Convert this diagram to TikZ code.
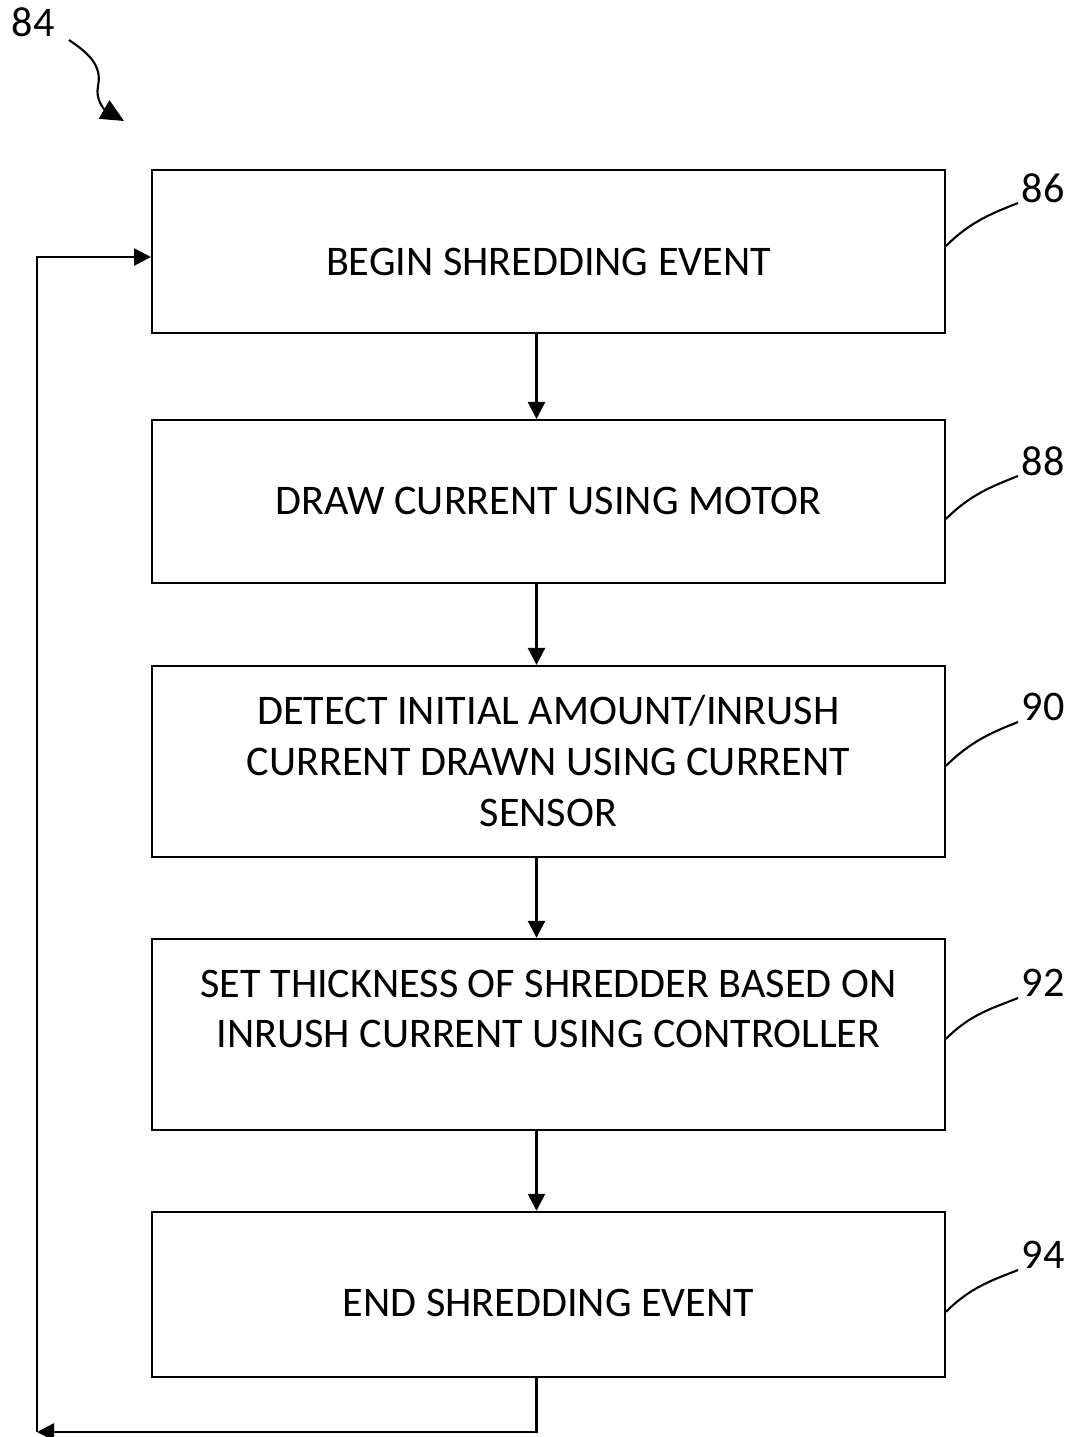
\documentclass[tikz,border=0pt]{standalone}
\usepackage{fontspec}
\setmainfont{Carlito}
\usetikzlibrary{arrows.meta,calc,positioning}
\tikzset{
	StepBox/.style={draw, line width=1.1pt, minimum width=15.86cm, align=center, inner sep=0pt, font=\fontsize{24}{29}\selectfont},
	Flow/.style={line width=1.5pt, -{Triangle[length=0.34cm, width=0.34cm]}},
	RefNum/.style={inner sep=0pt, font=\fontsize{24}{29}\selectfont},
	Leader/.style={line width=1.2pt}
}

\begin{document}
\begin{tikzpicture}[node distance=1.60cm]
		\useasboundingbox (0,0) rectangle (21.42,-28.74);
		\node[StepBox, minimum height=3.26cm, text height=0.95cm, text depth=0cm] (begin) at (10.97,-5.03) {BEGIN SHREDDING EVENT};
		\node[StepBox, minimum height=3.26cm, below=1.70cm of begin] (draw) {DRAW CURRENT USING MOTOR};
		\node[StepBox, minimum height=3.82cm, below=1.62cm of draw] (detect) {DETECT INITIAL AMOUNT/INRUSH\\ CURRENT DRAWN USING CURRENT\\ SENSOR};
		\node[StepBox, minimum height=3.82cm, below=of detect] (set) {SET THICKNESS OF SHREDDER BASED ON\\ INRUSH CURRENT USING CONTROLLER\\ \mbox{}};
		\node[StepBox, minimum height=3.30cm, text height=0.9cm, text depth=0cm, below=of set] (end) {END SHREDDING EVENT};
		\draw[Flow] ([xshift=-0.24cm]begin.south) to ([xshift=-0.24cm]draw.north);
		\draw[Flow] ([xshift=-0.24cm]draw.south) to ([xshift=-0.24cm]detect.north);
		\draw[Flow] ([xshift=-0.24cm]detect.south) to ([xshift=-0.24cm]set.north);
		\draw[Flow] ([xshift=-0.24cm]set.south) to ([xshift=-0.24cm]end.north);
		% loop back to the start
		\coordinate (back) at (0.74,-28.64);
		\draw[Flow] ([xshift=-0.24cm]end.south) |- (back);
		\draw[Flow] (back) |- ([yshift=-0.11cm]begin.west);
		% reference numerals
		\node[RefNum] (r84) at (0.66,-0.44) {84};
		\coordinate (tip84) at (2.48,-2.42);
		\draw[Leader, -{Triangle[length=0.46cm, width=0.42cm]}] ([xshift=0.72cm,yshift=-0.36cm]r84.center) .. controls (1.75,-1.05) and (2.05,-1.3) .. (1.96,-1.72) .. controls (1.9,-2.0) and (2.1,-2.2) .. (tip84);
		\node[RefNum] (r86) at (20.86,-3.76) {86};
		\node[RefNum] (r88) at (20.86,-9.22) {88};
		\node[RefNum] (r90) at (20.86,-14.14) {90};
		\node[RefNum] (r92) at (20.86,-19.66) {92};
		\node[RefNum] (r94) at (20.86,-25.10) {94};
		\draw[Leader] ([yshift=-1.54cm]begin.north east) .. controls +(0.5,0.5) and +(-0.5,-0.2) .. ([xshift=-0.5cm,yshift=-0.3cm]r86.center);
		\draw[Leader] ([yshift=-2.0cm]draw.north east) .. controls +(0.5,0.5) and +(-0.5,-0.2) .. ([xshift=-0.5cm,yshift=-0.3cm]r88.center);
		\draw[Leader] ([yshift=-2.02cm]detect.north east) .. controls +(0.5,0.5) and +(-0.5,-0.2) .. ([xshift=-0.5cm,yshift=-0.3cm]r90.center);
		\draw[Leader] ([yshift=-2.02cm]set.north east) .. controls +(0.5,0.5) and +(-0.5,-0.2) .. ([xshift=-0.5cm,yshift=-0.3cm]r92.center);
		\draw[Leader] ([yshift=-2.02cm]end.north east) .. controls +(0.5,0.5) and +(-0.5,-0.2) .. ([xshift=-0.5cm,yshift=-0.3cm]r94.center);
	\end{tikzpicture}
\end{document}
